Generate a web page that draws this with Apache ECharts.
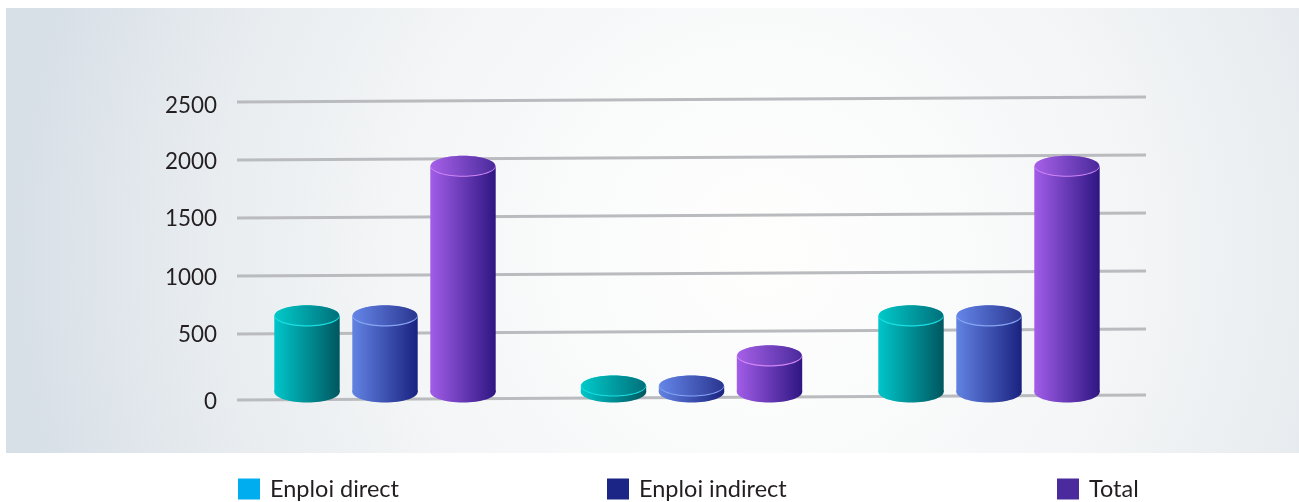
<!DOCTYPE html>
<html><head><meta charset="utf-8">
<style>html,body{margin:0;padding:0;background:#fff}#c{width:1299px;height:502px}</style>
<script src="https://cdn.jsdelivr.net/npm/echarts@6/dist/echarts.min.js"></script>
</head><body><div id="c"></div>
<script>
const categories = ['A', 'B', 'C'];
const direct = [655, 50, 655];
const indirect = [655, 50, 655];
const total = [1945, 310, 1945];
const gridLevels = [-70, 500, 1000, 1500, 2000, 2500];
const labelLevels = [-85, 492, 985, 1490, 1985, 2470];
const tickLabels = ['0', '500', '1000', '1500', '2000', '2500'];
const names = ['Enploi direct', 'Enploi indirect', 'Total'];

const FONT = 'Lato, sans-serif';
const seriesOffset = [-78, 0, 78];
const groupNudge = [-3.5, 0, -5.5];
const RX = 32.7, RY = 10.5, TILT = 5;
const palette = [
  {legend:'#00AEEF', l:'#00c6ca', r:'#00565f', tl:'#00c9c9', tr:'#00707a', rim:'#19e0e2'},
  {legend:'#1B2585', l:'#6283e3', r:'#1a2280', tl:'#6486e8', tr:'#2a3590', rim:'#86a6f2'},
  {legend:'#4B2A9E', l:'#a25de9', r:'#2e1682', tl:'#a660e8', tr:'#4a2a9c', rim:'#cf86f2'}
];
const hGrad = (a,b)=>new echarts.graphic.LinearGradient(0,0,1,0,[{offset:0,color:a},{offset:1,color:b}]);
const dGrad = (a,b)=>new echarts.graphic.LinearGradient(0,0.5,1,0.3,[{offset:0,color:a},{offset:1,color:b}]);

function cylinder(si){
  return function(params, api){
    const i = api.value(0);
    const top = api.coord([i, api.value(1)]);
    const base = api.coord([i, 0]);
    const x = top[0] + seriesOffset[si] + groupNudge[i];
    const c = palette[si];
    const body = hGrad(c.l, c.r);
    return {type:'group', children:[
      {type:'ellipse', shape:{cx:x, cy:base[1], rx:RX, ry:RY}, style:{fill:body}},
      {type:'rect', shape:{x:x-RX, y:top[1], width:RX*2, height:base[1]-top[1]}, style:{fill:body}},
      {type:'ellipse', shape:{cx:x, cy:top[1], rx:RX, ry:RY}, style:{fill:c.rim}},
      {type:'ellipse', shape:{cx:x, cy:top[1]-0.7, rx:RX-0.5, ry:RY-0.5}, style:{fill:dGrad(c.tl, c.tr)}}
    ]};
  };
}
function rows(arr){ return arr.map((v,i)=>[i,v]); }
const seriesData = [direct, indirect, total];

const option = {
  animation:false,
  textStyle:{fontFamily:FONT},
  graphic:[{type:'rect', silent:true, z:-10, shape:{x:6,y:8,width:1293,height:445},
    style:{fill:new echarts.graphic.RadialGradient(0.585,0.55,1.7,[
      {offset:0,color:'#fefefd'},{offset:0.25,color:'#fafbfb'},{offset:0.5,color:'#f3f5f6'},{offset:0.72,color:'#e9edf0'},{offset:1,color:'#d7dfe7'}])}}],
  grid:{left:237, width:909, top:102, height:299.74},
  legend:[0,1,2].map(i=>({
    data:[names[i]], left:[233,602,1052][i], top:472, icon:'rect', itemWidth:22, itemHeight:21, itemGap:10,
    textStyle:{fontFamily:FONT, fontSize:23.5, color:'#231f20', padding:[1,0,0,5]}, selectedMode:false
  })),
  xAxis:{type:'category', data:categories, show:false},
  yAxis:{type:'value', min:-85, max:2500,
    axisLine:{show:false}, axisTick:{show:false}, splitLine:{show:false},
    axisLabel:{customValues:labelLevels, margin:20, fontFamily:FONT, fontSize:22.4, color:'#231f20',
      padding:[2,0,0,0], formatter:(v)=>tickLabels[labelLevels.indexOf(v)]}},
  series:[
    {type:'custom', silent:true, z:1, data:gridLevels.map(v=>[v]), encode:{y:0},
     renderItem:(p,api)=>{
       const y = api.coord([0, api.value(0)])[1];
       return {type:'line', shape:{x1:p.coordSys.x, y1:y, x2:p.coordSys.x+p.coordSys.width, y2:y-TILT},
         style:{stroke:'#babbbf', lineWidth:3}};
     }},
    ...names.map((n,si)=>({
      type:'custom', name:n, z:3, itemStyle:{color:palette[si].legend},
      data:rows(seriesData[si]), encode:{x:0,y:1}, renderItem:cylinder(si)
    }))
  ]
};
echarts.init(document.getElementById('c'),null,{renderer:'canvas'}).setOption(option);
</script></body></html>
